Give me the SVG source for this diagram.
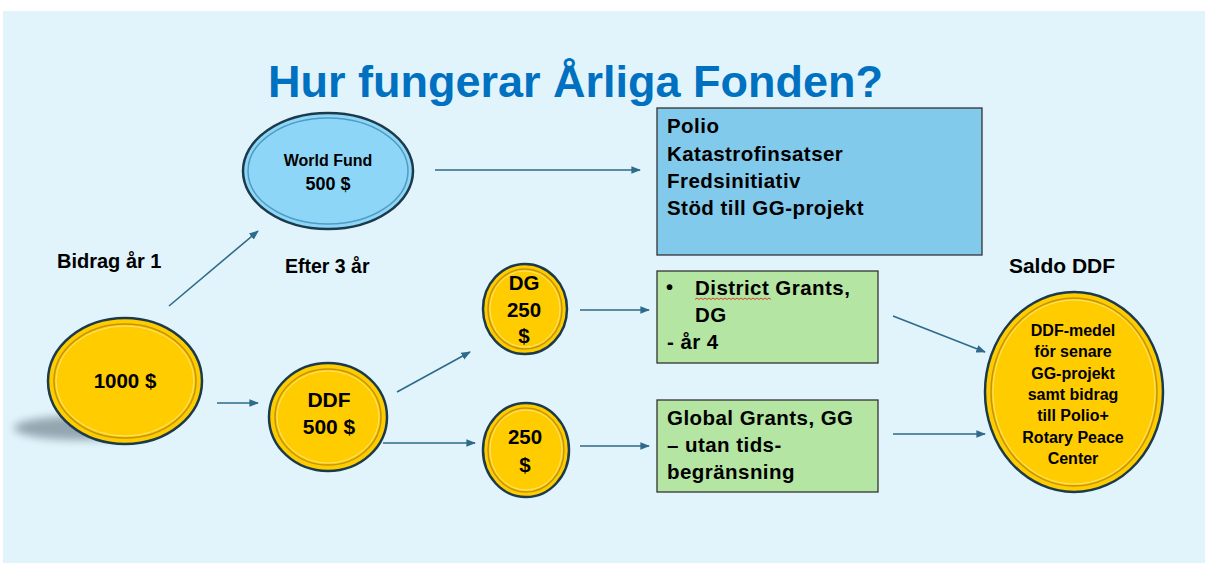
<svg xmlns="http://www.w3.org/2000/svg" width="1206" height="563" viewBox="0 0 1206 563">
<defs>
<style>
.t{font-family:"Liberation Sans",Arial,sans-serif;font-weight:bold;fill:#000}
.c{text-anchor:middle}
.coin{fill:#FFCC00;stroke:#1B3A4B;stroke-width:2.5}
.ring1{fill:none;stroke:#C49500;stroke-width:1.5}
.ring2{fill:none;stroke:#FFE27A;stroke-width:1}
.wf{fill:#8ED6F7;stroke:#1B3A4B;stroke-width:2.5}
.wfr{fill:none;stroke:#4E9CC4;stroke-width:1.5}
.box{stroke:#333;stroke-width:1.3}
.bt{font-size:20.5px;letter-spacing:0.45px}
.conn line{stroke:#2E6A8A;stroke-width:1.6;marker-end:url(#ah)}
</style>
<marker id="ah" viewBox="0 0 10 10" refX="9" refY="5" markerWidth="6" markerHeight="6" orient="auto" markerUnits="strokeWidth">
<path d="M0,1 L10,5 L0,9 z" fill="#2E6A8A"/>
</marker>
<filter id="blur" x="-30%" y="-100%" width="160%" height="300%"><feGaussianBlur stdDeviation="4"/></filter>
</defs>
<rect x="0" y="0" width="1206" height="563" fill="#fff"/>
<rect x="3" y="11" width="1202" height="552" fill="#E1F4FB"/>
<text id="title" class="t" x="268" y="97" font-size="45" style="fill:#0070C0">Hur fungerar Årliga Fonden?</text>

<text class="t" x="57" y="268" font-size="20">Bidrag år 1</text>
<text class="t" x="285" y="273" font-size="19.5">Efter 3 år</text>
<text class="t c" x="1062" y="273" font-size="21">Saldo DDF</text>

<g id="coin1000">
<ellipse cx="80" cy="428" rx="66" ry="12" fill="#94A6B0" filter="url(#blur)"/>
<ellipse class="coin" cx="125" cy="381" rx="77" ry="63"/>
<ellipse class="ring1" cx="125" cy="381" rx="71" ry="57"/>
<ellipse class="ring2" cx="125" cy="381" rx="69" ry="55"/>
<text class="t c" x="125" y="388" font-size="20.5">1000 $</text>
</g>

<g id="worldfund">
<ellipse class="wf" cx="328" cy="171" rx="85" ry="58"/>
<ellipse class="wfr" cx="328" cy="171" rx="80" ry="53"/>
<text class="t c" x="328" y="166" font-size="16">World Fund</text>
<text class="t c" x="328" y="190" font-size="18">500 $</text>
</g>

<g id="ddf">
<ellipse class="coin" cx="328" cy="417" rx="59" ry="54"/>
<ellipse class="ring1" cx="328" cy="417" rx="53" ry="48"/>
<ellipse class="ring2" cx="328" cy="417" rx="51" ry="46"/>
<text class="t c" x="329" y="407" font-size="21">DDF</text>
<text class="t c" x="329" y="434" font-size="21">500 $</text>
</g>

<g id="dg">
<ellipse class="coin" cx="525" cy="309" rx="42" ry="45"/>
<ellipse class="ring1" cx="525" cy="309" rx="37" ry="40"/>
<ellipse class="ring2" cx="525" cy="309" rx="35" ry="38"/>
<text class="t c" x="524" y="290" font-size="20.5">DG</text>
<text class="t c" x="524" y="317" font-size="20.5">250</text>
<text class="t c" x="524" y="343" font-size="20.5">$</text>
</g>

<g id="gg250">
<ellipse class="coin" cx="526" cy="450" rx="43" ry="47"/>
<ellipse class="ring1" cx="526" cy="450" rx="38" ry="42"/>
<ellipse class="ring2" cx="526" cy="450" rx="36" ry="40"/>
<text class="t c" x="525" y="444" font-size="20.5">250</text>
<text class="t c" x="525" y="472" font-size="20.5">$</text>
</g>

<g id="wfbox">
<rect class="box" x="657" y="108" width="325" height="147" fill="#82CAEB"/>
<text class="t bt" x="667" y="133">Polio</text>
<text class="t bt" x="667" y="161">Katastrofinsatser</text>
<text class="t bt" x="667" y="188">Fredsinitiativ</text>
<text class="t bt" x="667" y="215">Stöd till GG-projekt</text>
</g>

<g id="dgbox">
<rect class="box" x="657" y="271" width="221" height="92" fill="#B4E5A2"/>
<text class="t" x="666" y="294" font-size="20">•</text>
<text class="t bt" x="695" y="295">District Grants,</text>
<path d="M695,299.5 l2,-1.5 l2,1.5 l2,-1.5 l2,1.5 l2,-1.5 l2,1.5 l2,-1.5 l2,1.5 l2,-1.5 l2,1.5 l2,-1.5 l2,1.5 l2,-1.5 l2,1.5 l2,-1.5 l2,1.5 l2,-1.5 l2,1.5 l2,-1.5 l2,1.5 l2,-1.5 l2,1.5 l2,-1.5 l2,1.5 l2,-1.5 l2,1.5 l2,-1.5 l2,1.5 l2,-1.5 l2,1.5 l2,-1.5 l2,1.5 l2,-1.5 l2,1.5 l2,-1.5 l2,1.5 l2,-1.5 l2,1.5" fill="none" stroke="#E0302A" stroke-width="0.9"/>
<text class="t bt" x="695" y="322">DG</text>
<text class="t bt" x="667" y="349">- år 4</text>
</g>

<g id="ggbox">
<rect class="box" x="657" y="400" width="221" height="92" fill="#B4E5A2"/>
<text class="t bt" x="667" y="425">Global Grants, GG</text>
<text class="t bt" x="667" y="452">– utan tids-</text>
<text class="t bt" x="667" y="479">begränsning</text>
</g>

<g id="saldo">
<ellipse class="coin" cx="1074" cy="392" rx="89" ry="100"/>
<ellipse class="ring1" cx="1074" cy="392" rx="83" ry="94"/>
<ellipse class="ring2" cx="1074" cy="392" rx="81" ry="92"/>
<text class="t c" x="1073" y="336" font-size="16">DDF-medel</text>
<text class="t c" x="1073" y="357" font-size="16">för senare</text>
<text class="t c" x="1073" y="379" font-size="16">GG-projekt</text>
<text class="t c" x="1073" y="400" font-size="16">samt bidrag</text>
<text class="t c" x="1073" y="421" font-size="16">till Polio+</text>
<text class="t c" x="1073" y="443" font-size="16">Rotary Peace</text>
<text class="t c" x="1073" y="464" font-size="16">Center</text>
</g>

<g id="connectors" class="conn">
<line x1="169" y1="306" x2="258" y2="231"/>
<line x1="217" y1="403" x2="258" y2="403"/>
<line x1="435" y1="170" x2="640" y2="170"/>
<line x1="397" y1="392" x2="470" y2="352"/>
<line x1="383" y1="443" x2="475" y2="443"/>
<line x1="580" y1="310" x2="649" y2="310"/>
<line x1="580" y1="446" x2="649" y2="446"/>
<line x1="893" y1="316" x2="985" y2="352"/>
<line x1="893" y1="434" x2="985" y2="434"/>
</g>
</svg>
